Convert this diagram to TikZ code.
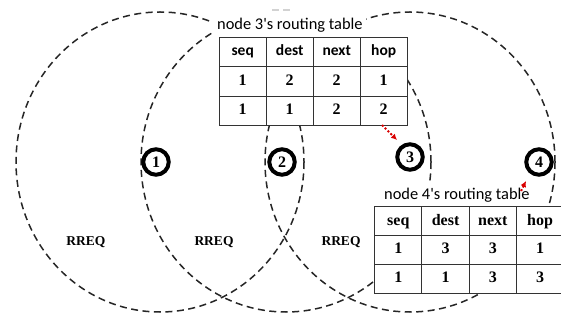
\documentclass[tikz,border=0pt]{standalone}
\usepackage{fontspec}
\setmainfont{Liberation Serif}
\newfontfamily\calib{Carlito}[Ligatures=TeXOff]
\usetikzlibrary{matrix,arrows.meta}
\begin{document}
\begin{tikzpicture}[x=1pt,y=-1pt,
  txrange/.style={dash pattern=on 7pt off 4.5pt, line width=1.5pt, black!85},
  ring/.style={circle, draw, fill=white, line width=4pt, minimum size=25.5pt, inner sep=0pt,
    font=\bfseries\fontsize{16}{16}\selectfont},
  rreq/.style={inner sep=0pt, font=\bfseries\fontsize{13.5}{13.5}\selectfont},
  lbl/.style={inner sep=0pt, font=\calib\fontsize{16.4}{16.4}\selectfont},
  rtable/.style={matrix of nodes, inner sep=0pt, column sep=-1pt, row sep=-1pt,
    nodes={draw=black!80, line width=1pt, fill=white, inner sep=0pt, anchor=center,
      text height=11pt, text depth=3pt, font=\bfseries\fontsize{16}{16}\selectfont}},
  redarrow/.style={red!85!black, line width=2pt, dash pattern=on 2pt off 2pt,
    -{Latex[length=6pt,width=6pt]}}]
\useasboundingbox (0,0) rectangle (561,320);
\fill[white] (0,0) rectangle (561,320);
% transmission ranges
\draw[txrange] (160,162) ellipse [x radius=144, y radius=150];
\draw[txrange] (286,162) ellipse [x radius=145, y radius=150];
\draw[txrange] (410,162) ellipse [x radius=145, y radius=150];
% covers behind the labels
\fill[white] (212,3) rectangle (366,37);
\fill[white] (382,181) rectangle (532,206);
\draw[gray!35, line width=1.2pt] (272,10) -- (279,10) (283,10) -- (290,10);
% node 3's table
\node[lbl, anchor=west] (l3) at (217,25) {node 3's routing table};
\matrix (t3) [rtable, anchor=north west,
  nodes={minimum width=47pt, minimum height=29.5pt},
  row 1/.style={nodes={font=\calib\bfseries\fontsize{15.5}{15.5}\selectfont}}]
  at (218.5,36.5) {
  seq & dest & next & hop \\
  1 & 2 & 2 & 1 \\
  1 & 1 & 2 & 2 \\
};
% node 4's table
\node[lbl, anchor=west] (l4) at (384,195) {node 4's routing table};
\matrix (t4) [rtable, anchor=north west,
  nodes={minimum width=47.25pt, minimum height=28.8pt}]
  at (374,206) {
  seq & dest & next & hop \\
  1 & 3 & 3 & 1 \\
  1 & 1 & 3 & 3 \\
};
% nodes
\node[ring] (n1) at (156,162) {1};
\node[ring] (n2) at (282,162) {2};
\node[ring] (n3) at (410,157) {3};
\node[ring] (n4) at (539,162) {4};
% RREQ labels
\node[rreq] (r1) at (86,242) {RREQ};
\node[rreq] (r2) at (214,242) {RREQ};
\node[rreq] (r3) at (341,242) {RREQ};
% red arrows
\coordinate (a1s) at (382,125);
\coordinate (a1e) at (397,140);
\draw[redarrow] (a1s) -- (a1e);
\coordinate (a2s) at (521,191);
\coordinate (a2e) at (526,181);
\draw[redarrow] (a2s) -- (a2e);
\end{tikzpicture}
\end{document}
